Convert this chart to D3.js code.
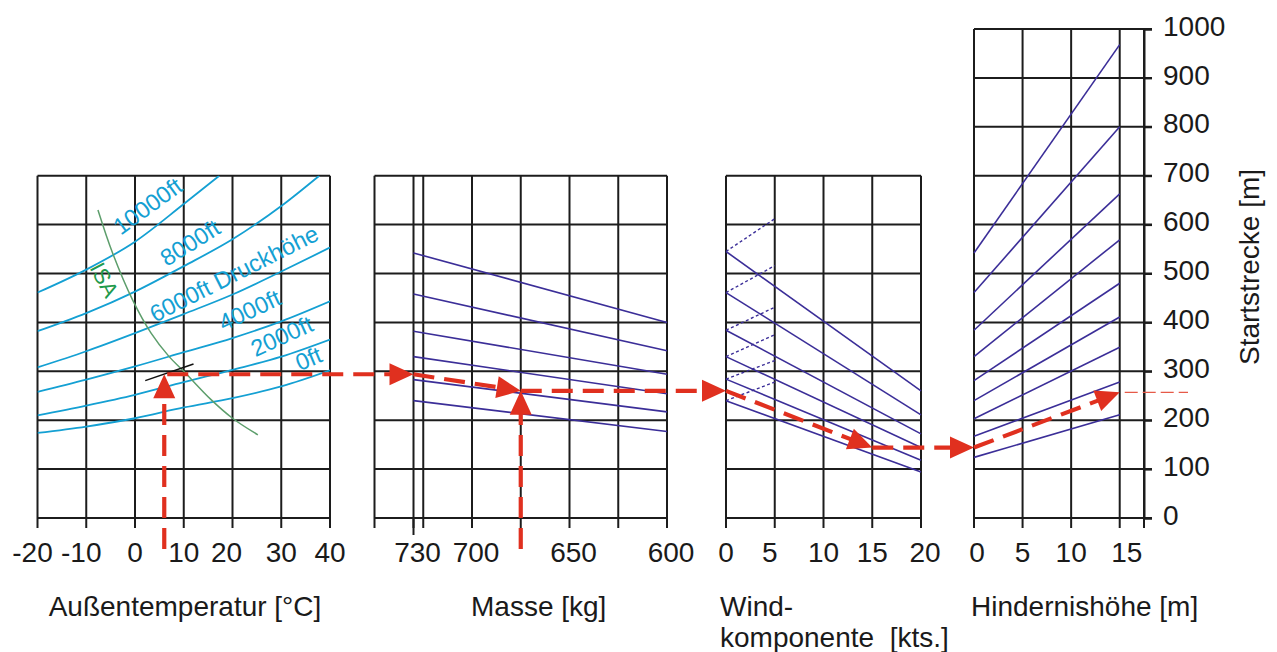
<!DOCTYPE html>
<html><head><meta charset="utf-8">
<script src="https://cdn.jsdelivr.net/npm/d3@7"></script>
<style>
body{margin:0;background:#fff;}
svg{font-family:"Liberation Sans",Arial,Helvetica,sans-serif;}
</style></head><body>
<svg id="chart" width="1277" height="652"></svg>
<script>
// ---------- data ----------
const distTicks = [0,100,200,300,400,500,600,700,800,900,1000];
const panelTop = 700;
const tempTicks = [-20,-10,0,10,20,30,40];
const massGrid = [750,730,725,700,675,650,625,600];
const massTickLabels = [730,700,650,600];
const windTicks = [0,5,10,15,20];
const obstacleGrid = [0,5,10,15,17.5];
const obstacleTickLabels = [0,5,10,15];

const altLabels = ["0ft","2000ft","4000ft","6000ft Druckhöhe","8000ft","10000ft"];
const alt0ft     = [[-20,174],[-10,187],[0,204],[10,226],[20,245],[30,269],[40,302]];
const alt2000ft  = [[-20,210],[-10,230],[0,252],[10,278],[20,303],[30,330],[40,365]];
const alt4000ft  = [[-20,258],[-10,283],[0,310],[10,339],[20,368],[30,402],[40,443]];
const alt6000ft  = [[-20,308],[-10,341],[0,378],[10,417],[20,457],[30,504],[40,553]];
const alt8000ft  = [[-20,382],[-10,419],[0,463],[10,515],[20,570],[30,638],[37.8,700]];
const alt10000ft = [[-20,461],[-10,508],[0,565],[10,642],[17.3,700]];
// label anchor (temperature, distance) and angle for each curve label
const altLabelPos = [[35.6,326,-23],[30.1,372,-24.5],[23.5,425,-25],[20.3,500,-26.8],[11.3,563,-32],[2.6,638,-36]];

const isaCurve = [[-7.6,630],[-4.6,542],[-0.5,446],[3.3,378],[7,330],[10,300],[15.6,242],[20,204],[25.2,170]];
const isaLabel = "ISA";
const tempMark = [[2.1,281],[12,315]];

const massAt730 = [542,458,382,330,283,240];
const massAt600 = [400,342,294,254,217,177];

const windAt0  = [545,461,384,330,284,240];
const windAt20 = [260,211,172,144,118,94];
const tailwindAt5 = [612,516,431,375,322,278];

const obstacleAt0  = [542,461,384,330,281,240,203,167,124];
const obstacleAt15 = [968,800,663,569,480,411,349,278,211];

// worked example
const exTemp = 6, exAltDist = 294, exMass = 675, exMassDist = 260,
      exWind = 15, exWindDist = 144, exObstacle = 15, exResult = 257;

// ---------- scales ----------
const svg = d3.select("#chart");
const y  = d3.scaleLinear().domain([0,1000]).range([518,29]);
const xT = d3.scaleLinear().domain([-20,40]).range([37.5,330]);
const xM = d3.scaleLinear().domain([750,600]).range([374.5,667]);
const xW = d3.scaleLinear().domain([0,20]).range([726,921]);
const xH = d3.scaleLinear().domain([0,17.5]).range([974,1144]);

const GRID = "#1c1c1c", CYAN = "#14a0d3", BLUE = "#3b2e98", RED = "#e0301f", GREEN = "#5d9e6c";
const FS = 28;

function panelGrid(xs, gridVals, top, hExtend) {
  const g = svg.append("g");
  const x0 = xs.range()[0], x1 = xs.range()[1];
  const hv = distTicks.filter(d => d <= top);
  g.selectAll("line.h").data(hv).join("line")
    .attr("x1", x0).attr("x2", x1 + (hExtend||0))
    .attr("y1", d => y(d)).attr("y2", d => y(d))
    .attr("stroke", GRID).attr("stroke-width", 2);
  g.selectAll("line.v").data(gridVals).join("line")
    .attr("x1", d => xs(d)).attr("x2", d => xs(d))
    .attr("y1", y(0) + 10).attr("y2", y(top))
    .attr("stroke", GRID).attr("stroke-width", 2);
  return g;
}
panelGrid(xT, tempTicks, panelTop);
const gm = panelGrid(xM, massGrid, panelTop);
gm.append("line").attr("x1", xM(730)).attr("x2", xM(730)).attr("y1", y(0)).attr("y2", y(0)+17)
  .attr("stroke", GRID).attr("stroke-width", 2);
panelGrid(xW, windTicks, panelTop);
panelGrid(xH, obstacleGrid, 1000, 8);

// ---------- tick labels ----------
function tickLabels(xs, vals, dxFn) {
  svg.append("g").selectAll("text").data(vals).join("text")
    .attr("x", d => xs(d) + (dxFn ? dxFn(d) : 0))
    .attr("y", y(0) + 34).attr("dy", "0.35em")
    .attr("text-anchor", "middle").attr("font-size", FS).attr("fill", "#1a1a1a")
    .text(d => String(d));
}
tickLabels(xT, tempTicks, d => d < 0 ? -5 : (d === 20 ? -6 : 0));
tickLabels(xM, massTickLabels, d => 4);
tickLabels(xW, windTicks, d => d === 5 ? -5 : (d === 20 ? 4 : 0));
tickLabels(xH, obstacleTickLabels, d => d === 15 ? 7 : (d === 0 ? 3 : 0));

// right axis
const rAxis = d3.axisRight(y).tickValues(distTicks).tickSize(8).tickPadding(11).tickFormat(d => String(d));
const ra = svg.append("g").attr("transform", `translate(${xH(17.5)},0)`).call(rAxis);
ra.select(".domain").attr("stroke", GRID).attr("stroke-width", 2);
ra.selectAll(".tick line").attr("stroke", GRID).attr("stroke-width", 2);
ra.selectAll(".tick text").attr("font-size", FS).attr("fill", "#1a1a1a")
  .attr("font-family", "Liberation Sans, Arial, sans-serif").attr("dy", "0.22em");

// ---------- titles ----------
function label(txt, x, yy, anchor) {
  return svg.append("text").attr("x", x).attr("y", yy).attr("dy", "0.35em")
    .attr("text-anchor", anchor || "start").attr("font-size", FS).attr("fill", "#1a1a1a")
    .style("white-space", "pre").text(txt);
}
label("Außentemperatur [°C]", 185, 606, "middle");
label("Masse [kg]", 471, 606);
label("Wind-", 720, 606);
label("komponente  [kts.]", 720, 637);
label("Hindernishöhe [m]", 971, 606);
svg.append("text").attr("transform", "translate(1249,267) rotate(-90)")
  .attr("text-anchor", "middle").attr("dy", "0.35em").attr("font-size", FS).attr("fill", "#1a1a1a")
  .text("Startstrecke [m]");

// ---------- temperature panel ----------
svg.append("clipPath").attr("id", "clipT").append("rect")
  .attr("x", xT(-20)).attr("y", y(panelTop)).attr("width", xT(40) - xT(-20)).attr("height", y(0) - y(panelTop));
const gT = svg.append("g").attr("clip-path", "url(#clipT)");
const lineT = d3.line().x(d => xT(d[0])).y(d => y(d[1])).curve(d3.curveMonotoneX);
[alt0ft, alt2000ft, alt4000ft, alt6000ft, alt8000ft, alt10000ft].forEach(c => {
  gT.append("path").attr("d", lineT(c)).attr("fill", "none").attr("stroke", CYAN).attr("stroke-width", 1.8);
});
gT.append("path").attr("d", d3.line().x(d => xT(d[0])).y(d => y(d[1])).curve(d3.curveCatmullRom)(isaCurve))
  .attr("fill", "none").attr("stroke", GREEN).attr("stroke-width", 1.5);
altLabels.forEach((t, i) => {
  const p = altLabelPos[i];
  svg.append("text").attr("transform", `translate(${xT(p[0])},${y(p[1])}) rotate(${p[2]})`)
    .attr("text-anchor", "middle").attr("dy", "0.35em").attr("font-size", 23.5).attr("fill", CYAN).text(t);
});
svg.append("text").attr("transform", `translate(${xT(-6.3)},${y(487)}) rotate(62)`)
  .attr("text-anchor", "middle").attr("dy", "0.35em").attr("font-size", 22).attr("fill", "#1f9a4c").text(isaLabel);
svg.append("line").attr("x1", xT(tempMark[0][0])).attr("y1", y(tempMark[0][1]))
  .attr("x2", xT(tempMark[1][0])).attr("y2", y(tempMark[1][1])).attr("stroke", "#111").attr("stroke-width", 1.5);

// ---------- mass panel ----------
massAt730.forEach((v, i) => {
  svg.append("line").attr("x1", xM(730)).attr("y1", y(v)).attr("x2", xM(600)).attr("y2", y(massAt600[i]))
    .attr("stroke", BLUE).attr("stroke-width", 1.6);
});

// ---------- wind panel ----------
windAt0.forEach((v, i) => {
  svg.append("line").attr("x1", xW(0)).attr("y1", y(v)).attr("x2", xW(20)).attr("y2", y(windAt20[i]))
    .attr("stroke", BLUE).attr("stroke-width", 1.6);
  svg.append("line").attr("x1", xW(0)).attr("y1", y(v)).attr("x2", xW(5)).attr("y2", y(tailwindAt5[i]))
    .attr("stroke", BLUE).attr("stroke-width", 1.4).attr("stroke-dasharray", "3,2.5");
});

// ---------- obstacle panel ----------
obstacleAt0.forEach((v, i) => {
  svg.append("line").attr("x1", xH(0)).attr("y1", y(v)).attr("x2", xH(15)).attr("y2", y(obstacleAt15[i]))
    .attr("stroke", BLUE).attr("stroke-width", 1.6);
});

// ---------- worked example (red arrows) ----------
const gR = svg.append("g");
function seg(p0, p1, arrow) {
  let [x0, y0] = p0, [x1, y1] = p1;
  const dx = x1 - x0, dy = y1 - y0, L = Math.hypot(dx, dy), ux = dx / L, uy = dy / L;
  const hl = 24, hw = 11;
  const ex = arrow ? x1 - ux * (hl - 2) : x1, ey = arrow ? y1 - uy * (hl - 2) : y1;
  gR.append("line").attr("x1", x0).attr("y1", y0).attr("x2", ex).attr("y2", ey)
    .attr("stroke", RED).attr("stroke-width", 4.2).attr("stroke-dasharray", "21,10");
  if (arrow) {
    const bx = x1 - ux * hl, by = y1 - uy * hl;
    gR.append("path").attr("d", `M${x1},${y1}L${bx - uy * hw},${by + ux * hw}L${bx + uy * hw},${by - ux * hw}Z`)
      .attr("fill", RED);
  }
}
const below = y(0) + 31;
seg([xT(exTemp), below], [xT(exTemp), y(exAltDist)], true);
seg([xT(exTemp) + 3, y(exAltDist)], [xM(730), y(exAltDist)], true);
seg([xM(730), y(exAltDist)], [xM(exMass), y(exMassDist)], true);
seg([xM(exMass), below], [xM(exMass), y(exMassDist)], true);
seg([xM(exMass), y(exMassDist)], [xW(0), y(exMassDist)], true);
seg([xW(0), y(exMassDist)], [xW(exWind), y(exWindDist)], true);
seg([xW(exWind), y(exWindDist)], [xH(0), y(exWindDist)], true);
seg([xH(0), y(exWindDist)], [xH(exObstacle), y(exResult)], true);
gR.append("line").attr("x1", xH(exObstacle) + 5).attr("x2", 1188).attr("y1", y(exResult)).attr("y2", y(exResult))
  .attr("stroke", "#e65a48").attr("stroke-width", 1.4).attr("stroke-dasharray", "13,5");
</script>
</body></html>
